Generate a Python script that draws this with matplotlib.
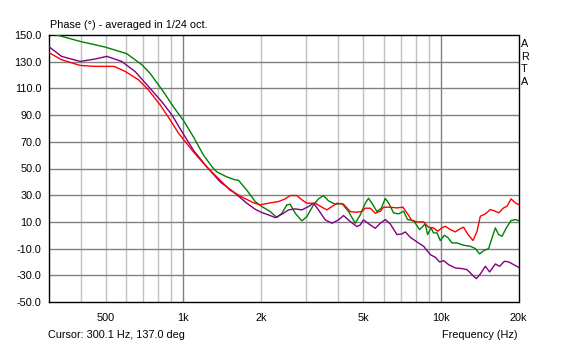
import matplotlib.pyplot as plt
import numpy as np

plt.rcParams["font.family"] = ["Liberation Sans", "DejaVu Sans"]

# Phase curves (Hz, degrees)
red_freq = [300, 337, 398, 455, 540, 595, 670, 732, 813, 889, 958, 1095, 1216,
            1350, 1521, 1688, 1873, 1988, 2142, 2342, 2486, 2600, 2760, 2887,
            3019, 3252, 3453, 3609, 3777, 3949, 4187, 4449, 4650, 4937, 5084,
            5317, 5562, 5816, 5989, 6359, 6751, 7122, 7381, 7718, 8072, 8564,
            8955, 9365, 9705, 10095, 10397, 10872, 11370, 11890, 12248, 12694,
            13323, 13809, 14221, 14871, 15550, 16259, 16748, 17515, 18052,
            18710, 19443, 20000]
red_phase = [137, 131.5, 127.2, 126.5, 126.5, 122.7, 116.5, 109, 97.7, 86.5,
             76.5, 62.5, 52.5, 43.7, 33.7, 28.7, 24.3, 22.75, 24, 25.25, 27.25,
             29.75, 29.75, 26.5, 24, 24, 21, 19, 21.5, 24, 23.25, 17.75, 17.25,
             17.75, 20.25, 20.25, 16.5, 18, 21, 21, 20.5, 21, 16.75, 11, 10, 10,
             6, 5.5, 3, 5.5, 6.75, 4.25, 2.5, 5, 6, 1, -4, 3, 14.25, 16, 19.25,
             18, 16.75, 20.5, 21.75, 27.25, 24.25, 23]

green_freq = [300, 323, 398, 497, 604, 690, 744, 838, 916, 1000, 1095, 1198,
              1309, 1350, 1476, 1590, 1638, 1766, 1901, 2019, 2175, 2309, 2414,
              2524, 2600, 2719, 2887, 3019, 3202, 3348, 3502, 3662, 3888, 4128,
              4381, 4650, 4864, 5084, 5237, 5428, 5646, 5867, 6081, 6262, 6550,
              6848, 7162, 7422, 7830, 8263, 8518, 8695, 8877, 9150, 9365, 9656,
              9943, 10305, 10614, 11041, 11545, 12248, 13004, 13599, 14131,
              14647, 15315, 15789, 16259, 16748, 17262, 17941, 18710, 19443,
              20000]
green_phase = [151.5, 150, 145.2, 141, 136, 127.8, 121.2, 107.5, 96.2, 86.2,
               73.7, 60, 50, 47.5, 43.7, 41.5, 41.2, 33.7, 25.25, 21.5, 17.75,
               13.25, 16.5, 22.75, 23.25, 16.5, 10.75, 14, 22.75, 27.25, 29.75,
               25.75, 23.25, 23.75, 17.75, 9, 15.25, 24, 27.75, 23.25, 17.75,
               20.25, 27.5, 24.25, 16.75, 16, 18, 11.75, 11, 4.25, 6.75, 8.5,
               0.5, 5.5, 1.75, 1.75, -4, 0, -1.5, -5.75, -5.75, -7.5, -8.25,
               -10, -14, -11.5, -10, -2, 5.5, 0.5, -0.75, 5.5, 11, 11.75, 11]

purple_freq = [300, 337, 398, 455, 505, 577, 650, 732, 826, 903, 987, 1095,
               1235, 1390, 1566, 1766, 1901, 2019, 2142, 2274, 2414, 2561,
               2719, 2887, 3062, 3202, 3348, 3557, 3777, 4006, 4187, 4449, 4721,
               4864, 5008, 5317, 5562, 5816, 6081, 6359, 6751, 7060, 7271, 7601,
               8072, 8564, 9094, 9510, 9883, 10241, 10708, 11370, 12076, 12626,
               13204, 13721, 14221, 14871, 15451, 16259, 16899, 17625, 18314,
               19149, 20000]
purple_phase = [141.5, 134, 130.2, 132, 134, 130.2, 122.7, 111.5, 100, 90.2,
                77.8, 63.7, 51.2, 40, 32.5, 24, 19.5, 17, 15.25, 13.25, 15.75,
                19, 19.75, 19, 21.5, 24, 19, 11.5, 9, 11.5, 14.75, 10.25, 6.5,
                7.75, 11.5, 7.75, 5.25, 9, 11.75, 8.5, 0.5, 1, 2.5, -1.5, -5,
                -8.25, -14.5, -16.5, -20, -19, -22, -24.5, -25, -25.75, -29.5,
                -32.5, -29, -23.25, -27.5, -21.5, -23.25, -19.5, -20, -22, -24]

x_ticks = [500, 1000, 2000, 5000, 10000, 20000]
x_tick_labels = ["500", "1k", "2k", "5k", "10k", "20k"]
y_ticks = [-50, -30, -10, 10, 30, 50, 70, 90, 110, 130, 150]

fig = plt.figure(figsize=(5.66, 3.44), dpi=100)
ax = fig.add_axes([48.5 / 566, 42 / 344, 470 / 566, 267 / 344])

ax.set_xscale("log")
ax.set_xlim(300, 20000)
ax.set_ylim(-50, 150)

# grid: light minor lines, darker decade + horizontal lines
for f in [400, 500, 600, 700, 800, 900, 2000, 3000, 4000, 5000, 6000, 7000,
          8000, 9000]:
    ax.axvline(f, color="#c0c0c0", lw=1.0, zorder=1)
for f in [1000, 10000]:
    ax.axvline(f, color="#808080", lw=1.0, zorder=1)
for v in y_ticks[1:-1]:
    ax.axhline(v, color="#808080", lw=1.0, zorder=1)

ax.plot(green_freq, green_phase, color="#008000", lw=1.0, zorder=3)
ax.plot(purple_freq, purple_phase, color="#800080", lw=1.0, zorder=3)
ax.plot(red_freq, red_phase, color="#ff0000", lw=1.0, zorder=3)

ax.set_xticks(x_ticks)
ax.set_xticklabels(x_tick_labels)
ax.xaxis.set_minor_locator(plt.NullLocator())
ax.set_yticks(y_ticks)
ax.set_yticklabels(["%.1f" % v for v in y_ticks])
ax.tick_params(axis="both", length=0, labelsize=7.8, colors="black")
ax.tick_params(axis="x", pad=8)
ax.tick_params(axis="y", pad=5)
for s in ax.spines.values():
    s.set_linewidth(1.0)
    s.set_color("black")

fig.text(50 / 566, 1 - 28.5 / 344, "Phase (°) - averaged in 1/24 oct.",
         fontsize=7.8, va="baseline", ha="left")
fig.text(48.5 / 566, 1 - 338 / 344, "Cursor: 300.1 Hz, 137.0 deg",
         fontsize=7.8, va="baseline", ha="left")
fig.text(518 / 566, 1 - 338 / 344, "Frequency (Hz)",
         fontsize=7.8, va="baseline", ha="right")
for i, ch in enumerate("ARTA"):
    fig.text(524.5 / 566, 1 - (44.2 + 12.5 * i) / 344, ch,
             fontsize=7.8, va="center", ha="center")

fig.savefig("out.png", dpi=100)
